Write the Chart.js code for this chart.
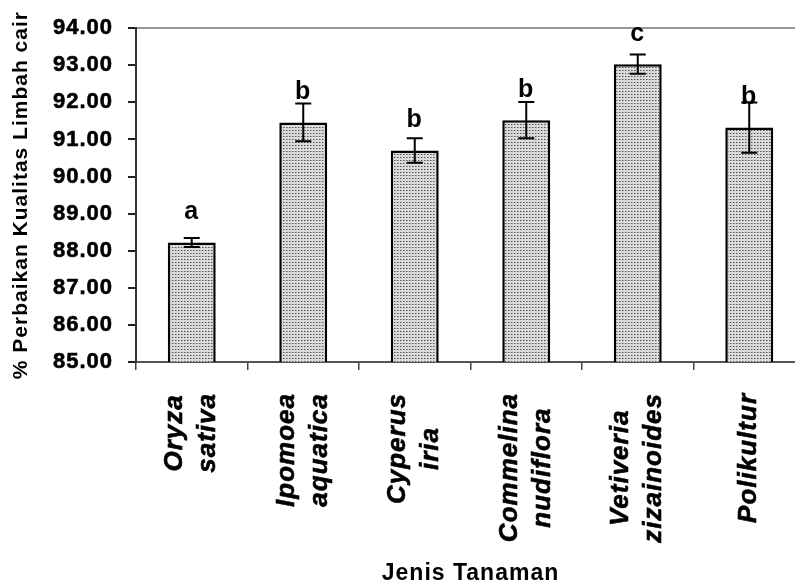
<!DOCTYPE html>
<html>
<head>
<meta charset="utf-8">
<script src="https://cdn.jsdelivr.net/npm/chart.js@4.4.0/dist/chart.umd.min.js"></script>
<style>
  html, body { margin: 0; padding: 0; background: #fff; overflow: hidden; }
  canvas { display: block; }
</style>
</head>
<body>
<canvas id="chart" width="810" height="585"></canvas>
<script>
// 데이터
const categories = [
    ['Oryza', 'sativa'],
    ['Ipomoea', 'aquatica'],
    ['Cyperus', 'iria'],
    ['Commelina', 'nudiflora'],
    ['Vetiveria', 'zizainoides'],
    ['Polikultur']
];
const values = [88.22, 91.46, 90.70, 91.52, 93.03, 91.32];
const errors = [0.12, 0.51, 0.33, 0.49, 0.26, 0.68];
const groupLetters = ['a', 'b', 'b', 'b', 'c', 'b'];
const yTicks = [85, 86, 87, 88, 89, 90, 91, 92, 93, 94];

const FONT = "'Liberation Sans', Arial, sans-serif";

// 점무늬 패턴
function makeDotPattern() {
    const c = document.createElement('canvas');
    c.width = 3;
    c.height = 3;
    const g = c.getContext('2d');
    g.fillStyle = '#dadada';
    g.fillRect(0, 0, 3, 3);
    g.fillStyle = '#555';
    g.fillRect(1, 1, 1, 1);
    g.fillStyle = '#999';
    g.fillRect(2, 1, 1, 1);
    return document.getElementById('chart').getContext('2d').createPattern(c, 'repeat');
}

// 글자 간격
const spacingPlugin = {
    id: 'spacing',
    beforeInit(chart) { chart.ctx.letterSpacing = '1px'; },
    beforeDraw(chart) { chart.ctx.letterSpacing = '1px'; }
};

// 오차 막대 + 유의성 문자
const errorBarPlugin = {
    id: 'errorBars',
    afterDatasetsDraw(chart) {
        const ctx = chart.ctx;
        const y = chart.scales.y;
        const meta = chart.getDatasetMeta(0);
        ctx.save();
        ctx.strokeStyle = '#000';
        ctx.lineWidth = 2;
        meta.data.forEach((bar, i) => {
            const top = y.getPixelForValue(values[i] + errors[i]);
            const bot = y.getPixelForValue(values[i] - errors[i]);
            ctx.beginPath();
            ctx.moveTo(bar.x, top);
            ctx.lineTo(bar.x, bot);
            ctx.moveTo(bar.x - 8, top);
            ctx.lineTo(bar.x + 8, top);
            ctx.moveTo(bar.x - 8, bot);
            ctx.lineTo(bar.x + 8, bot);
            ctx.stroke();

            ctx.fillStyle = '#000';
            ctx.font = 'bold 25px ' + FONT;
            ctx.textAlign = 'center';
            ctx.textBaseline = 'middle';
            ctx.fillText(groupLetters[i], bar.x, bar.y - 30);
        });
        ctx.restore();
    }
};

// x축 라벨 (세로, 줄 가운데 정렬)
const xLabelPlugin = {
    id: 'xLabels',
    afterDraw(chart) {
        const ctx = chart.ctx;
        const x = chart.scales.x;
        const lineH = 33;
        const y0 = x.top + 8 + 23;
        ctx.save();
        ctx.letterSpacing = '1px';
        ctx.font = 'italic bold 26px ' + FONT;
        ctx.fillStyle = '#000';
        ctx.strokeStyle = '#000';
        ctx.lineWidth = 0.6;
        ctx.textAlign = 'center';
        ctx.textBaseline = 'middle';
        categories.forEach((lines, i) => {
            const px = x.getPixelForTick(i);
            const w = Math.max(...lines.map(l => ctx.measureText(l).width));
            lines.forEach((line, j) => {
                ctx.save();
                ctx.translate(px + (j - (lines.length - 1) / 2) * lineH, y0 + w / 2);
                ctx.rotate(-Math.PI / 2);
                ctx.strokeText(line, 0, 0);
                ctx.fillText(line, 0, 0);
                ctx.restore();
            });
        });
        ctx.restore();
    }
};

Chart.defaults.font.family = FONT;
Chart.defaults.font.weight = 'bold';
Chart.defaults.color = '#000';

new Chart(document.getElementById('chart'), {
    type: 'bar',
    data: {
        labels: categories,
        datasets: [{
            data: values,
            backgroundColor: makeDotPattern(),
            borderColor: '#000',
            borderWidth: 2.5,
            barPercentage: 0.43,
            categoryPercentage: 1.0
        }]
    },
    options: {
        responsive: false,
        animation: false,
        layout: { padding: { top: 27, right: 5, bottom: 0, left: 0 } },
        plugins: {
            legend: { display: false },
            tooltip: { enabled: false }
        },
        scales: {
            x: {
                grid: {
                    offset: true,
                    drawOnChartArea: false,
                    drawTicks: true,
                    tickLength: 8,
                    tickColor: '#444',
                    lineWidth: 1.5
                },
                border: { color: '#555', width: 2 },
                ticks: {
                    color: 'transparent',
                    autoSkip: false,
                    maxRotation: 90,
                    minRotation: 90,
                    font: { size: 26, style: 'italic' }
                },
                title: {
                    display: true,
                    text: 'Jenis Tanaman',
                    font: { size: 23, weight: 'bold', lineHeight: 1 },
                    padding: { top: 0, bottom: 0 }
                },
                afterFit: s => { s.height = 223; }
            },
            y: {
                min: 85,
                max: 94,
                afterBuildTicks: s => { s.ticks = yTicks.map(v => ({ value: v })); },
                grid: {
                    drawOnChartArea: true,
                    color: c => (c.tick && c.tick.value === 94 ? '#999' : 'transparent'),
                    lineWidth: 2,
                    tickColor: '#222',
                    tickLength: 8
                },
                border: { color: '#333', width: 2 },
                ticks: {
                    padding: 15,
                    font: { size: 22 },
                    textStrokeColor: '#000',
                    textStrokeWidth: 0.6,
                    callback: v => Number(v).toFixed(2)
                },
                title: {
                    display: true,
                    text: '% Perbaikan Kualitas Limbah cair',
                    font: { size: 21, weight: 'bold', lineHeight: 1 },
                    padding: { top: 11, bottom: 0 }
                },
                afterFit: s => { s.width = 136; }
            }
        }
    },
    plugins: [spacingPlugin, errorBarPlugin, xLabelPlugin]
});
</script>
</body>
</html>
